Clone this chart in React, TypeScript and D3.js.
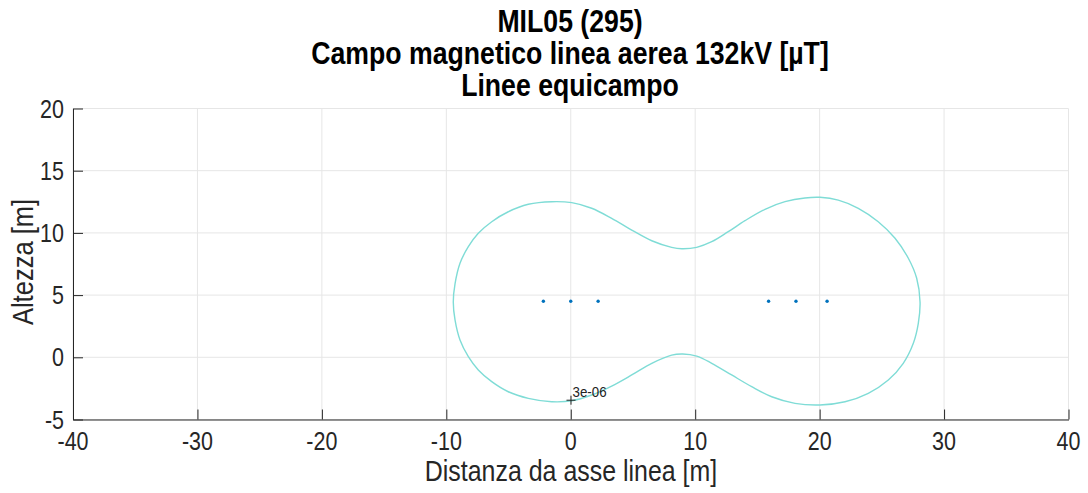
import React, { useRef, useEffect } from "react";
import * as d3 from "d3";

// equi-field line (metres): top from left to right, then bottom back
const contourX = [
  -9.44, -9.3, -8.9, -8.23, -7.43, -6.35, -5.02, -3.41, -1.53, 0.08, 1.68, 3.29, 4.9, 6.51, 8.11,
  8.92, 10.12, 11.33, 12.66, 14.0, 15.61, 17.22, 18.82, 20.03, 21.5, 23.11, 24.71, 26.06, 27.13,
  27.8, 28.07, 27.93, 27.53, 26.72, 25.52, 23.91, 22.04, 20.03, 18.02, 16.15, 14.54, 12.93, 11.33,
  10.12, 9.0, 8.11, 6.51, 4.9, 3.29, 1.68, 0.08, -1.53, -3.41, -5.02, -6.35, -7.43, -8.23, -8.9, -9.3,
];
const contourY = [
  4.45, 5.9, 7.56, 8.89, 9.97, 10.9, 11.7, 12.3, 12.51, 12.43, 11.98, 11.17, 10.23, 9.37, 8.84,
  8.73, 8.84, 9.29, 10.1, 10.98, 11.9, 12.51, 12.81, 12.86, 12.64, 11.98, 10.9, 9.57, 7.96,
  6.35, 4.45, 2.73, 1.13, -0.48, -1.82, -2.89, -3.57, -3.83, -3.7, -3.17, -2.36, -1.42, -0.48,
  0.1, 0.27, 0.18, -0.48, -1.42, -2.31, -3.03, -3.49, -3.57, -3.3, -2.77, -1.96, -1.02, 0.05, 1.39, 3.0,
];

// conductors
const condX = [-2.2, 0, 2.2, 15.9, 18.1, 20.6];
const condY = [4.5, 4.5, 4.5, 4.5, 4.5, 4.5];

const labelX = 0.02;
const labelY = -3.45;
const labelText = "3e-06";

const xTicks = [-40, -30, -20, -10, 0, 10, 20, 30, 40];
const yTicks = [-5, 0, 5, 10, 15, 20];

const titleLines = ["MIL05 (295)", "Campo magnetico linea aerea 132kV [\u00b5T]", "Linee equicampo"];
const xLabel = "Distanza da asse linea [m]";
const yLabel = "Altezza [m]";

const W = 1088;
const H = 493;
const FONT = "'Liberation Sans', Arial, Helvetica, sans-serif";

const App = () => {
  const ref = useRef(null);

  useEffect(() => {
    const root = d3.select(ref.current);
    root.selectAll("*").remove();

    const svg = root
      .append("svg")
      .attr("width", W)
      .attr("height", H)
      .style("display", "block")
      .style("font-family", FONT);

    svg.append("rect").attr("width", W).attr("height", H).attr("fill", "#fff");

    const x = d3.scaleLinear().domain([-40, 40]).range([73, 1068.5]);
    const y = d3.scaleLinear().domain([-5, 20]).range([419.5, 108.5]);
    const axisCol = "#262626";

    // text squeezed horizontally, like the stretched original
    const label = (txt, px, py, size, sx, anchor, opts = {}) => {
      const t = svg
        .append("text")
        .attr("transform", `translate(${px},${py})${opts.rot ? ` rotate(${opts.rot})` : ""} scale(${sx},1)`)
        .attr("text-anchor", anchor)
        .attr("fill", opts.fill || axisCol)
        .style("font-size", `${size}px`)
        .text(txt);
      if (opts.bold) t.attr("font-weight", "bold");
      return t;
    };

    // grid
    const grid = svg.append("g").attr("stroke", "#e6e6e6").attr("stroke-width", 1);
    xTicks.forEach((t) => {
      grid.append("line").attr("x1", x(t)).attr("x2", x(t)).attr("y1", y(-5)).attr("y2", y(20));
    });
    yTicks.forEach((t) => {
      grid.append("line").attr("x1", x(-40)).attr("x2", x(40)).attr("y1", y(t)).attr("y2", y(t));
    });

    // axes, ticks pointing inward, labels drawn separately
    const xAxis = svg
      .append("g")
      .attr("transform", `translate(0,${y(-5)})`)
      .call(d3.axisBottom(x).tickValues(xTicks).tickSizeInner(-10).tickSizeOuter(0).tickFormat(() => ""));
    const yAxis = svg
      .append("g")
      .attr("transform", `translate(${x(-40)},0)`)
      .call(d3.axisLeft(y).tickValues(yTicks).tickSizeInner(-10).tickSizeOuter(0).tickFormat(() => ""));
    [xAxis, yAxis].forEach((a) => {
      a.select(".domain").attr("stroke", axisCol);
      a.selectAll(".tick line").attr("stroke", axisCol);
    });

    xTicks.forEach((t) => label(String(t), x(t), 450, 25, 0.86, "middle"));
    yTicks.forEach((t) => label(String(t), 64, y(t) + 9, 25, 0.86, "end"));

    // contour
    const pts = contourX.map((v, i) => [x(v), y(contourY[i])]);
    svg
      .append("path")
      .attr("d", d3.line().curve(d3.curveCatmullRomClosed.alpha(0.5))(pts))
      .attr("fill", "none")
      .attr("stroke", "#7fdcd6")
      .attr("stroke-width", 1.4);

    // conductors
    svg
      .append("g")
      .selectAll("circle")
      .data(condX)
      .enter()
      .append("circle")
      .attr("cx", (d) => x(d))
      .attr("cy", (d, i) => y(condY[i]))
      .attr("r", 1.7)
      .attr("fill", "#0072bd");

    // contour label
    const lx = x(labelX);
    const ly = y(labelY);
    svg
      .append("path")
      .attr("d", `M${lx - 4.5},${ly}H${lx + 4.5}M${lx},${ly - 4.5}V${ly + 4.5}`)
      .attr("stroke", "#222")
      .attr("stroke-width", 1);
    label(labelText, lx + 1.5, ly - 3.5, 14.5, 0.92, "start", { fill: "#222" });

    // titles
    titleLines.forEach((t, i) => {
      label(t, 570, 32 + i * 32, 31, 0.86, "middle", { bold: true, fill: "#000" });
    });

    label(xLabel, 571, 481, 29, 0.86, "middle");
    label(yLabel, 33, 262, 29, 0.88, "middle", { rot: -90 });
  }, []);

  return <div ref={ref} style={{ position: "absolute", left: 0, top: 0 }} />;
};

export default App;
